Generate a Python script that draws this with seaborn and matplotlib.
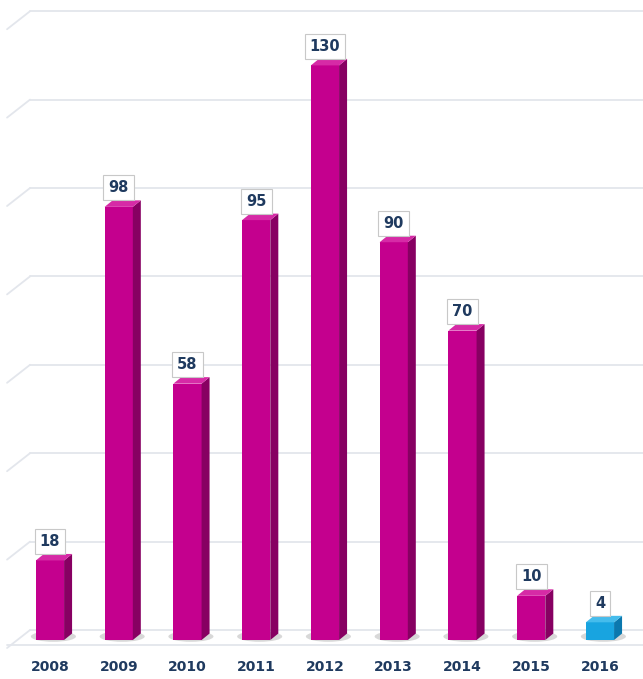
import seaborn as sns
import matplotlib.pyplot as plt
import matplotlib.transforms as mtransforms
from matplotlib.patches import Polygon, Ellipse
import pandas as pd

years = ["2008", "2009", "2010", "2011", "2012", "2013", "2014", "2015", "2016"]
counts = [18, 98, 58, 95, 130, 90, 70, 10, 4]
grid_values = [0, 20, 40, 60, 80, 100, 120, 140]

front_colors = ["#C4008E"] * 8 + ["#18A4E0"]
side_colors = ["#870062"] * 8 + ["#0B78AE"]
top_colors = ["#D62AA6"] * 8 + ["#45BCEC"]

df = pd.DataFrame({"year": years, "count": counts})

sns.set_style("white")
fig = plt.figure(figsize=(6.43, 6.79), dpi=100)
ax = fig.add_axes([0, 29 / 679, 1, 650 / 679])

sns.barplot(data=df, x="year", y="count", hue="year", palette=front_colors,
            width=0.41, legend=False, ax=ax, zorder=3, saturation=1, edgecolor="none")

ax.set_xlim(-0.727, 8.626)
ax.set_ylim(-2.26, 144.8)

px_x = 1 / 68.75   # data units per pixel, x
px_y = 1 / 4.42    # data units per pixel, y

# back-wall gridlines, shifted up a bit for the 3D look
back = ax.transData + mtransforms.ScaledTranslation(0, 10 / 100, fig.dpi_scale_trans)
for v in grid_values:
    ax.plot([-0.29, 8.8], [v, v], color="#E3E6EC", lw=1.3, transform=back, zorder=0)
    # perspective stub on the left wall
    ax.plot([-0.29 - 23 * px_x, -0.29], [v - 18 * px_y, v], color="#E3E6EC", lw=1.3,
            transform=back, zorder=0)
# front floor edge
ax.plot([-0.62, 8.8], [-1.1, -1.1], color="#E3E6EC", lw=1.3, zorder=0)

dx = 8 * px_x
dy = 6.5 * px_y
for i, bar in enumerate(ax.patches[:len(counts)]):
    x0 = bar.get_x()
    w = bar.get_width()
    h = bar.get_height()
    # floor shadow
    ax.add_patch(Ellipse((x0 + w / 2 + 0.05, 0.8), w * 1.6, 2.4, color="#C8C8C8",
                         alpha=0.7, zorder=2, lw=0))
    side = [(x0 + w, 0), (x0 + w + dx, dy), (x0 + w + dx, h + dy), (x0 + w, h)]
    top = [(x0, h), (x0 + dx, h + dy), (x0 + w + dx, h + dy), (x0 + w, h)]
    ax.add_patch(Polygon(side, closed=True, color=side_colors[i], zorder=3, lw=0))
    ax.add_patch(Polygon(top, closed=True, color=top_colors[i], zorder=3, lw=0))
    ax.annotate(str(counts[i]), (x0 + w / 2, h + dy), xytext=(0, 9),
                textcoords="offset points", ha="center", va="center",
                fontsize=10.5, fontweight="bold", color="#1F3A5F", zorder=5,
                bbox=dict(boxstyle="square,pad=0.35", fc="white", ec="#C8C8C8", lw=0.8))

ax.set_xticks(range(len(years)))
ax.set_xticklabels(years, fontsize=10, color="#1F3A5F", fontweight="bold")
ax.tick_params(axis="x", length=0, pad=7)
ax.set_yticks([])
ax.set_xlabel("")
ax.set_ylabel("")
for s in ax.spines.values():
    s.set_visible(False)

fig.savefig("out.png", dpi=100)
